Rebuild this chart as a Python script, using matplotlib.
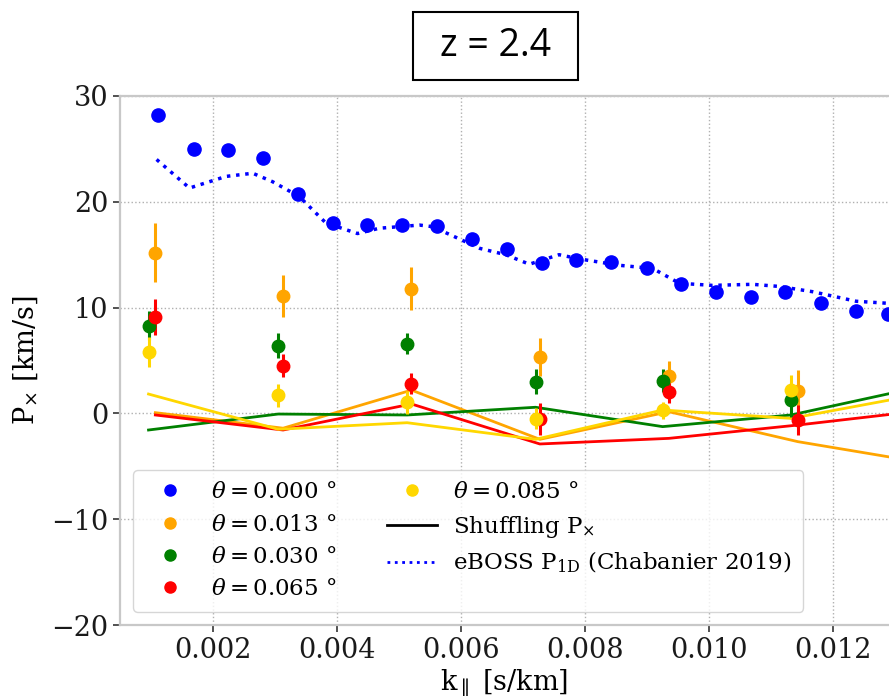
import numpy as np
import matplotlib
matplotlib.use('Agg')
import matplotlib.pyplot as plt
from matplotlib.lines import Line2D
from matplotlib.patches import Rectangle

plt.rcParams['font.family'] = 'DejaVu Serif'
plt.rcParams['mathtext.fontset'] = 'dejavuserif'

# theta = 0 (P1D from data)
k0 = [0.00112, 0.00169, 0.00224, 0.00280, 0.00337, 0.00394, 0.00449, 0.00504, 0.00561,
      0.00618, 0.00674, 0.00730, 0.00786, 0.00842, 0.00899, 0.00955, 0.01011, 0.01068,
      0.01123, 0.01180, 0.01236, 0.01289]
p0 = [28.2, 25.0, 24.9, 24.1, 20.7, 18.0, 17.8, 17.8, 17.7, 16.5, 15.5, 14.2, 14.5, 14.3,
      13.7, 12.2, 11.5, 11.0, 11.5, 10.4, 9.7, 9.4]

# eBOSS P1D
k_eb = [0.00109, 0.00162, 0.00221, 0.00264, 0.00296, 0.00339, 0.00382, 0.00433, 0.00468,
        0.00533, 0.00554, 0.00608, 0.00630, 0.00672, 0.00710, 0.00758, 0.00791, 0.00855,
        0.00909, 0.00952, 0.01005, 0.01070, 0.01113, 0.01167, 0.01237, 0.01290]
p_eb = [24.0, 21.3, 22.4, 22.7, 21.9, 20.5, 18.0, 17.0, 17.5, 17.8, 17.65, 16.2, 15.6,
        15.0, 14.1, 15.0, 14.6, 14.0, 13.7, 12.3, 12.1, 12.2, 12.0, 11.5, 10.6, 10.4]

# cross power for separations
k_a = [0.00107, 0.00313, 0.00520, 0.00727, 0.00935, 0.01143]   # orange / red
k_b = [0.00096, 0.00305, 0.00513, 0.00720, 0.00925, 0.01132]   # green / yellow

p_013 = [15.2, 11.1, 11.8, 5.3, 3.5, 2.1]
e_013 = [2.8, 2.0, 2.0, 1.8, 1.5, 2.0]
p_030 = [8.3, 6.4, 6.6, 3.0, 3.1, 1.3]
e_030 = [1.4, 1.2, 1.0, 1.2, 1.1, 1.6]
p_065 = [9.1, 4.5, 2.8, -0.5, 2.0, -0.6]
e_065 = [1.7, 1.1, 1.0, 1.5, 1.0, 1.4]
p_085 = [5.8, 1.7, 1.05, -0.5, 0.3, 2.2]
e_085 = [1.4, 1.1, 1.1, 1.0, 0.8, 1.4]

# shuffled estimates
sh_013 = [0.07, -1.4, 2.2, -2.45, 0.16, -2.67, -4.7]
sh_030 = [-1.57, -0.06, -0.15, 0.58, -1.25, -0.15, 2.5]
sh_065 = [-0.15, -1.57, 0.89, -2.89, -2.36, -1.1, 0.3]
sh_085 = [1.83, -1.5, -0.88, -2.45, 0.32, -0.47, 1.8]
k_sh_a = k_a + [0.01350]
k_sh_b = k_b + [0.01340]

labels = [r'$\theta=0.000$ °', r'$\theta=0.013$ °', r'$\theta=0.030$ °',
          r'$\theta=0.065$ °', r'$\theta=0.085$ °']
colors = ['blue', 'orange', 'green', 'red', 'gold']

fig = plt.figure(figsize=(8.89, 7), dpi=100)
ax = fig.add_axes([120/889, 75/700, 769/889, 529/700])

ax.plot(k_sh_a, sh_013, color='orange', lw=2, zorder=2)
ax.plot(k_sh_b, sh_030, color='green', lw=2, zorder=2)
ax.plot(k_sh_a, sh_065, color='red', lw=2, zorder=2)
ax.plot(k_sh_b, sh_085, color='gold', lw=2, zorder=2)

ax.plot(k_eb, p_eb, ls=':', color='blue', lw=2.5, zorder=3)
ax.plot(k0, p0, 'o', color='blue', ms=9.5, zorder=4)

ax.errorbar(k_a, p_013, yerr=e_013, fmt='o', color='orange', ms=9, elinewidth=2.2, zorder=4)
ax.errorbar(k_b, p_030, yerr=e_030, fmt='o', color='green', ms=9, elinewidth=2.2, zorder=4)
ax.errorbar(k_a, p_065, yerr=e_065, fmt='o', color='red', ms=9, elinewidth=2.2, zorder=4)
ax.errorbar(k_b, p_085, yerr=e_085, fmt='o', color='gold', ms=9, elinewidth=2.2, zorder=4)

ax.set_xlim(0.0005, 0.0129)
ax.set_ylim(-20, 30)
ax.set_xticks([0.002, 0.004, 0.006, 0.008, 0.010, 0.012])
ax.set_yticks([-20, -10, 0, 10, 20, 30])
ax.grid(True, ls=':', color='#b0b0b0', lw=1)
ax.set_axisbelow(True)
for s in ['left', 'top', 'bottom']:
    ax.spines[s].set_color('#c8c8c8')
    ax.spines[s].set_linewidth(1.6)
ax.spines['right'].set_visible(False)
ax.tick_params(labelsize=19.5, length=5, width=1.2, color='#333333', labelcolor='#1a1a1a')
ax.set_xlabel(r'k$_{\parallel}$ [s/km]', fontsize=19.5, labelpad=3)
ax.set_ylabel(r'P$_{\times}$ [km/s]', fontsize=19.5, labelpad=8)

handles = [Line2D([], [], marker='o', ls='', color=c, ms=8) for c in colors]
handles.append(Line2D([], [], color='black', lw=2))
handles.append(Line2D([], [], color='blue', ls=':', lw=2))
leg = ax.legend(handles, labels + [r'Shuffling P$_{\times}$', r'eBOSS P$_{\mathrm{1D}}$ (Chabanier 2019)'],
                ncol=2, loc='lower left', bbox_to_anchor=(0.017, 0.025), borderaxespad=0,
                fontsize=16.5, labelspacing=0.45, handlelength=2.2, handletextpad=0.7,
                columnspacing=2.2, borderpad=0.5, frameon=True, fancybox=True)
leg.get_frame().set_edgecolor('#cccccc')

fig.patches.append(Rectangle((413/889, 1 - 80/700), 165/889, 68/700, transform=fig.transFigure,
                             fill=False, edgecolor='black', lw=1.5))
fig.text(495.5/889, 1 - 46/700, 'z = 2.4', fontsize=27, family='Open Sans', ha='center', va='center')

fig.savefig('out.png', dpi=100)
